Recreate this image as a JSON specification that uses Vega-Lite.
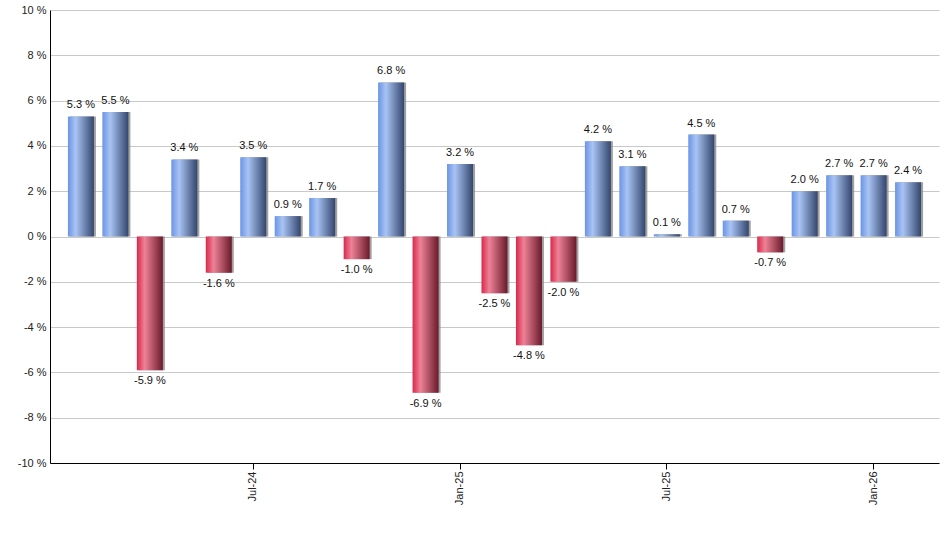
{
  "$schema": "https://vega.github.io/schema/vega-lite/v6.json",
  "width": 889,
  "height": 453,
  "autosize": "none",
  "padding": {"left": 50, "top": 10, "right": 1, "bottom": 87},
  "background": "white",
  "config": {
    "view": {"stroke": null},
    "font": "Liberation Sans",
    "axis": {"labelFont": "Liberation Sans", "labelFontSize": 11, "labelColor": "#222222"}
  },
  "data": {
    "values": [
      {"month": "Feb-24", "r": 5.3},
      {"month": "Mar-24", "r": 5.5},
      {"month": "Apr-24", "r": -5.9},
      {"month": "May-24", "r": 3.4},
      {"month": "Jun-24", "r": -1.6},
      {"month": "Jul-24", "r": 3.5},
      {"month": "Aug-24", "r": 0.9},
      {"month": "Sep-24", "r": 1.7},
      {"month": "Oct-24", "r": -1.0},
      {"month": "Nov-24", "r": 6.8},
      {"month": "Dec-24", "r": -6.9},
      {"month": "Jan-25", "r": 3.2},
      {"month": "Feb-25", "r": -2.5},
      {"month": "Mar-25", "r": -4.8},
      {"month": "Apr-25", "r": -2.0},
      {"month": "May-25", "r": 4.2},
      {"month": "Jun-25", "r": 3.1},
      {"month": "Jul-25", "r": 0.1},
      {"month": "Aug-25", "r": 4.5},
      {"month": "Sep-25", "r": 0.7},
      {"month": "Oct-25", "r": -0.7},
      {"month": "Nov-25", "r": 2.0},
      {"month": "Dec-25", "r": 2.7},
      {"month": "Jan-26", "r": 2.7},
      {"month": "Feb-26", "r": 2.4}
    ]
  },
  "transform": [
    {"calculate": "(datum.r < 0 ? '-' : '') + format(abs(datum.r), '.1f') + ' %'", "as": "label"}
  ],
  "encoding": {
    "x": {
      "field": "month",
      "type": "nominal",
      "sort": null,
      "scale": {"paddingInner": 0.245, "paddingOuter": 0.52},
      "axis": {
        "title": null,
        "values": ["Jul-24", "Jan-25", "Jul-25", "Jan-26"],
        "labelAngle": -90,
        "labelAlign": "right",
        "labelBaseline": "middle",
        "labelPadding": 2,
        "tickSize": 6,
        "tickColor": "#000000",
        "domainColor": "#000000",
        "grid": false
      }
    }
  },
  "layer": [
    {
      "mark": {"type": "bar", "xOffset": 2, "color": "#8a8a8a", "opacity": 0.8},
      "encoding": {
        "y": {
          "field": "r",
          "type": "quantitative",
          "scale": {"domain": [-10, 10], "nice": false, "zero": false},
          "axis": {
            "title": null,
            "values": [-10, -8, -6, -4, -2, 0, 2, 4, 6, 8, 10],
            "labelExpr": "datum.value + ' %'",
            "ticks": false,
            "labelPadding": 4,
            "domainColor": "#000000",
            "gridColor": "#c8c8c8",
            "gridWidth": 1
          }
        }
      }
    },
    {
      "transform": [{"filter": "datum.r >= 0"}],
      "mark": {
        "type": "bar",
        "color": {
          "gradient": "linear",
          "x1": 0, "y1": 0, "x2": 1, "y2": 0,
          "stops": [
            {"offset": 0, "color": "#6a94e4"},
            {"offset": 0.3, "color": "#a9c4f4"},
            {"offset": 1, "color": "#33466d"}
          ]
        }
      },
      "encoding": {"y": {"field": "r", "type": "quantitative"}}
    },
    {
      "transform": [{"filter": "datum.r < 0"}],
      "mark": {
        "type": "bar",
        "color": {
          "gradient": "linear",
          "x1": 0, "y1": 0, "x2": 1, "y2": 0,
          "stops": [
            {"offset": 0, "color": "#d8284b"},
            {"offset": 0.3, "color": "#ee8297"},
            {"offset": 1, "color": "#6a1a2b"}
          ]
        }
      },
      "encoding": {"y": {"field": "r", "type": "quantitative"}}
    },
    {
      "transform": [{"filter": "datum.r >= 0"}],
      "mark": {"type": "text", "baseline": "bottom", "dy": -6, "fontSize": 11, "color": "#111111"},
      "encoding": {
        "y": {"field": "r", "type": "quantitative"},
        "text": {"field": "label"}
      }
    },
    {
      "transform": [{"filter": "datum.r < 0"}],
      "mark": {"type": "text", "baseline": "top", "dy": 5, "fontSize": 11, "color": "#111111"},
      "encoding": {
        "y": {"field": "r", "type": "quantitative"},
        "text": {"field": "label"}
      }
    }
  ]
}
